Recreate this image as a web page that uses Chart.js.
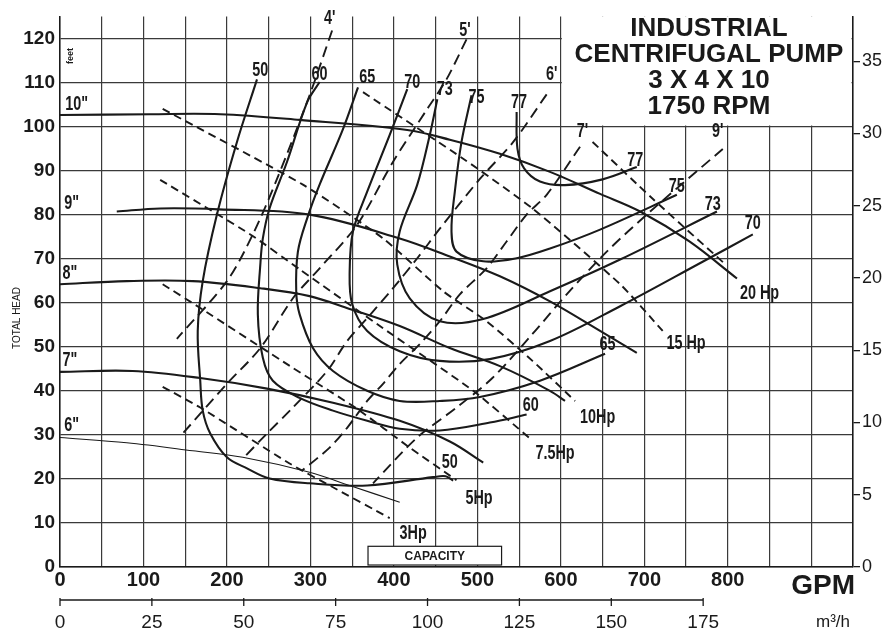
<!DOCTYPE html>
<html>
<head>
<meta charset="utf-8">
<script src="https://cdn.jsdelivr.net/npm/chart.js@4.4.1/dist/chart.umd.min.js"></script>
<style>
html,body{margin:0;padding:0;background:#fff;}
canvas{display:block;}
</style>
</head>
<body>
<canvas id="c" width="889" height="633"></canvas>
<script>
// ---------- axis tick labels ----------
const gpmTicks   = [0,100,200,300,400,500,600,700,800];
const headTicks  = [0,10,20,30,40,50,60,70,80,90,100,110,120];
const meterTicks = [0,5,10,15,20,25,30,35];
const m3hTicks   = [0,25,50,75,100,125,150,175];
const titleLines = ['INDUSTRIAL','CENTRIFUGAL PUMP','3 X 4 X 10','1750 RPM'];

// ---------- impeller head curves [GPM, feet] ----------
const imp10 = [[0,102.6],[108,102.8],[192,102.8],[287,101.5],[416,99.2],[467,97],[527,93.8],[587,89.7],[647,84.7],[695,80.7],[754,73.9],[811,65.5]];
const imp9  = [[68,80.7],[120,81.4],[190,81.2],[299,80],[407,74.6],[467,70.5],[527,66],[587,60.3],[647,53.6],[691,48.6]];
const imp8  = [[0,64.2],[80,64.9],[159,64.9],[240,63.3],[299,61.5],[347,58.6],[407,54.7],[467,49.7],[527,45.6],[587,40],[605,37.7]];
const imp7  = [[0,44.3],[87,44.5],[168,42.9],[248,40.5],[327,37.3],[407,33.2],[467,28.5],[507,23.7]];
const imp6  = [[0,29.4],[80,28.2],[159,26.4],[219,24.9],[299,21.5],[347,18.5],[407,14.7]];

// ---------- efficiency curves (%) ----------
const eff50 = [[236,110.7],[212,96.5],[188,80],[171,64.9],[165,53.6],[168,42.3],[171,35.5],[180,30.3],[200,24.9],[224,22.4],[251,20.1],[299,19],[368,18.5],[447,20.4],[462,20.6],[471,19.6]];
const eff60 = [[311,110.1],[296,105.5],[272,92],[251,81.4],[243,74.6],[240,68.7],[237,57.4],[243,47.5],[255,42.3],[287,38.4],[327,35.5],[368,33.2],[407,31.4],[455,31],[515,32.8],[559,34.6]];
const eff65 = [[357,108.9],[339,99.4],[311,86.8],[296,79.1],[285,71.6],[283,62.6],[287,57.4],[303,49.7],[327,44.5],[368,40],[407,37.7],[455,37.7],[503,38.6],[575,42.3],[653,48.4]];
const eff70 = [[416,108.5],[395,98.1],[368,85.2],[351,76.2],[347,67.1],[350,59.7],[368,53.6],[407,49],[455,46.8],[515,47.2],[587,51.3],[671,59.2],[766,68.9],[830,75.5]];
const eff73 = [[452,106.2],[443,98.1],[428,86.8],[407,76.2],[404,68.7],[419,61],[455,55.8],[507,56.3],[587,62.6],[671,69.8],[787,80.7]];
const eff75 = [[493,107.1],[481,96.5],[473,85.2],[469,76.2],[475,71.6],[507,69.4],[547,70.1],[587,72.3],[647,76.6],[739,84.5]];
const eff77 = [[547,103.3],[548,95],[556,90.5],[575,87.5],[605,86.7],[650,88],[691,90.8]];

// ---------- NPSH required lines (feet) ----------
const npsh4 = [[326,121.8],[299,107.1],[260,88.1],[231,75.5],[200,64.9],[140,51.8]];
const npsh5 = [[487,119.8],[463,110.7],[440,104],[399,92],[356,77.7],[311,67.8],[279,61],[240,49.7],[200,41.6],[147,30.3]];
const npsh6 = [[583,107.3],[543,96.5],[503,88.1],[455,76.8],[428,70.1],[399,63.3],[368,56.5],[344,51.3],[320,44.5],[279,36.2],[248,30.3],[219,24.6]];
const npsh7 = [[623,95.4],[583,84.5],[559,80],[535,73.9],[511,67.8],[479,61.9],[455,55.8],[431,50.6],[407,46.1],[387,41.6],[368,37.7],[344,31.6],[323,27.1],[290,21.9]];
const npsh9 = [[794,94.9],[707,80.7],[655,71.6],[607,61.9],[566,52.9],[518,42.9],[475,36.2],[428,29.4],[375,19]];

// ---------- horsepower lines ----------
const hp3  = [[123,40.9],[168,36.2],[275,23.5],[327,18.1],[395,11.1]];
const hp5  = [[123,64.2],[168,58.8],[279,45.2],[356,35.9],[419,27.1],[475,19.7]];
const hp75 = [[120,87.9],[228,75.5],[287,67.6],[387,54.2],[495,40],[563,29.2]];
const hp10 = [[123,104],[291,86.8],[387,74.6],[459,62.6],[511,55.8],[566,46.8],[617,37.7]];
const hp15 = [[363,107.8],[483,92.7],[566,81.4],[671,64.2],[722,53.6]];
const hp20 = [[638,96.5],[710,83.6],[796,68.9]];

// ---------- curve labels [text, GPM, feet] ----------
const impLabels = [['10"',20,104.9],['9"',14,82.5],['8"',12,66.7],['7"',12,46.8],['6"',14,32.1]];
const effLabels = [['50',240,112.8],['60',311,111.9],['65',368,111.2],['70',422,110.1],['73',461,108.5],['75',499,106.7],['77',550,105.5],
                   ['77',689,92.4],['75',739,86.3],['73',782,82.3],['70',830,78],['65',656,50.6],['60',564,36.6],['50',467,23.7]];
const npshLabels = [["4'",323,124.5],["5'",485,121.8],["6'",589,111.9],["7'",626,98.8],["9'",788,98.8]];
const hpLabels = [['3Hp',423,7.5],['5Hp',502,15.6],['7.5Hp',593,25.8],['10Hp',644,33.9],['15 Hp',750,50.8],['20 Hp',838,62.1]];
const capacityBox = {gpmFrom:369, gpmTo:529, ftFrom:0.45, ftTo:4.7, text:'CAPACITY'};

const FT_PER_M = 3.28084, GPM_PER_M3H = 4.40287;
const ink = '#1a1a1a';
const gridInk = '#3a3a3a';
const SANS = '"Liberation Sans", Arial, sans-serif';

function mk(label, pts, extra) {
  return Object.assign({
    label: label,
    data: pts.map(p => ({x: p[0], y: p[1]})),
    showLine: true, pointRadius: 0, pointHoverRadius: 0,
    borderColor: ink, borderWidth: 2.1, tension: 0.35, fill: false,
    xAxisID: 'x', yAxisID: 'y'
  }, extra || {});
}
const dashHp = {borderDash: [8, 5], borderWidth: 1.9, tension: 0.2};
const dashNp = {borderDash: [11, 6], borderWidth: 1.9, tension: 0.3};

const datasets = [
  mk('10"', imp10), mk('9"', imp9), mk('8"', imp8), mk('7"', imp7), mk('6"', imp6, {borderWidth: 1.1}),
  mk('50%', eff50), mk('60%', eff60), mk('65%', eff65), mk('70%', eff70), mk('73%', eff73), mk('75%', eff75), mk('77%', eff77),
  mk("4'", npsh4, dashNp), mk("5'", npsh5, dashNp), mk("6'", npsh6, dashNp), mk("7'", npsh7, dashNp), mk("9'", npsh9, dashNp),
  mk('3Hp', hp3, dashHp), mk('5Hp', hp5, dashHp), mk('7.5Hp', hp75, dashHp), mk('10Hp', hp10, dashHp), mk('15Hp', hp15, dashHp), mk('20Hp', hp20, dashHp)
];

function narrowText(ctx, t, px, py, sx) {
  ctx.save();
  ctx.translate(px, py);
  ctx.scale(sx, 1);
  ctx.fillText(t, 0, 0);
  ctx.restore();
}

const deco = {
  id: 'deco',
  beforeDatasetsDraw(chart) {
    const {ctx, scales: {x, y}} = chart;
    const l = x.getPixelForValue(600) + 1, r = x.getPixelForValue(950) - 1.5;
    const t = y.getPixelForValue(125), b = y.getPixelForValue(100) - 1;
    ctx.save();
    ctx.fillStyle = '#fff';
    ctx.fillRect(l, t, r - l, b - t);
    ctx.restore();
  },
  afterDraw(chart) {
    const {ctx, chartArea: ca, scales: {x, y, x2}} = chart;
    ctx.save();
    ctx.fillStyle = ink;
    ctx.strokeStyle = ink;
    // curve labels (condensed)
    ctx.textAlign = 'center';
    ctx.textBaseline = 'middle';
    ctx.font = 'bold 20px ' + SANS;
    const all = impLabels.concat(effLabels, npshLabels, hpLabels);
    all.forEach(([t, g, h]) => {
      narrowText(ctx, t, x.getPixelForValue(g), y.getPixelForValue(h), 0.72);
    });
    // title block
    const cx = (x.getPixelForValue(600) + x.getPixelForValue(950)) / 2 + 2;
    ctx.font = 'bold 26px ' + SANS;
    titleLines.forEach((t, i) => ctx.fillText(t, cx, ca.top + 12 + i * 26.3));
    // GPM axis name
    ctx.font = 'bold 28px ' + SANS;
    ctx.textAlign = 'right';
    ctx.fillText('GPM', ca.right + 2, ca.bottom + 19);
    // m3/h axis line and ticks
    const ly = ca.bottom + 33;
    ctx.lineWidth = 1.3;
    ctx.beginPath();
    ctx.moveTo(x2.getPixelForValue(0), ly);
    ctx.lineTo(x2.getPixelForValue(175), ly);
    m3hTicks.forEach(v => {
      const px = x2.getPixelForValue(v);
      ctx.moveTo(px, ly - 2);
      ctx.lineTo(px, ly + 6);
    });
    ctx.stroke();
    ctx.font = '17px ' + SANS;
    ctx.textAlign = 'right';
    ctx.fillText('m\u00B3/h', ca.right - 3, ca.bottom + 55);
    // capacity box
    const bx0 = x.getPixelForValue(capacityBox.gpmFrom), bx1 = x.getPixelForValue(capacityBox.gpmTo);
    const by0 = y.getPixelForValue(capacityBox.ftTo), by1 = y.getPixelForValue(capacityBox.ftFrom);
    ctx.fillStyle = '#fff';
    ctx.fillRect(bx0, by0, bx1 - bx0, by1 - by0);
    ctx.lineWidth = 1.2;
    ctx.strokeRect(bx0, by0, bx1 - bx0, by1 - by0);
    ctx.fillStyle = ink;
    ctx.textAlign = 'center';
    ctx.font = 'bold 12px ' + SANS;
    ctx.fillText(capacityBox.text, (bx0 + bx1) / 2, (by0 + by1) / 2 + 1);
    // vertical axis captions
    ctx.save();
    ctx.translate(17, 318);
    ctx.rotate(-Math.PI / 2);
    ctx.font = '10px ' + SANS;
    ctx.fillText('TOTAL HEAD', 0, 0);
    ctx.restore();
    ctx.save();
    ctx.translate(71, 56);
    ctx.rotate(-Math.PI / 2);
    ctx.font = 'bold 9px ' + SANS;
    ctx.fillText('feet', 0, 0);
    ctx.restore();
    ctx.restore();
  }
};

new Chart(document.getElementById('c'), {
  type: 'scatter',
  data: {datasets: datasets},
  options: {
    responsive: false,
    animation: false,
    devicePixelRatio: 1,
    layout: {padding: {top: 13, left: 0, right: 0, bottom: 0}},
    plugins: {legend: {display: false}, tooltip: {enabled: false}},
    scales: {
      x: {
        type: 'linear', position: 'bottom', min: 0, max: 950, weight: 0,
        ticks: {stepSize: 50, autoSkip: false, maxRotation: 0, padding: 1, color: ink,
                font: {family: SANS, size: 20, weight: 'bold'},
                callback: v => gpmTicks.includes(v) ? String(v) : ''},
        grid: {color: gridInk, lineWidth: 1.2, drawTicks: false},
        border: {display: true, color: ink, width: 1.5},
        afterFit: s => { s.height = 22; }
      },
      x2: {
        type: 'linear', position: 'bottom', min: 0, max: 950 / GPM_PER_M3H, weight: 1,
        afterBuildTicks: s => { s.ticks = m3hTicks.map(v => ({value: v})); },
        ticks: {autoSkip: false, maxRotation: 0, padding: 22, color: ink,
                font: {family: SANS, size: 19}},
        grid: {display: false, drawTicks: false},
        border: {display: false},
        afterFit: s => { s.height = 44; }
      },
      y: {
        type: 'linear', position: 'left', min: 0, max: 125,
        ticks: {stepSize: 10, includeBounds: false, padding: 5, color: ink,
                font: {family: SANS, size: 19, weight: 'bold'},
                callback: v => headTicks.includes(v) ? String(v) : ''},
        grid: {color: gridInk, lineWidth: 1.2, drawTicks: false},
        border: {display: true, color: ink, width: 1.5},
        afterFit: s => { s.width = 60; }
      },
      y2: {
        type: 'linear', position: 'right', min: 0, max: 125 / FT_PER_M,
        afterBuildTicks: s => { s.ticks = meterTicks.map(v => ({value: v})); },
        ticks: {padding: 2, color: ink, font: {family: SANS, size: 18}},
        grid: {drawOnChartArea: false, drawTicks: true, tickLength: 7, color: ink, lineWidth: 1.3},
        border: {display: true, color: ink, width: 1.5},
        afterFit: s => { s.width = 36; }
      }
    }
  },
  plugins: [deco]
});
</script>
</body>
</html>
